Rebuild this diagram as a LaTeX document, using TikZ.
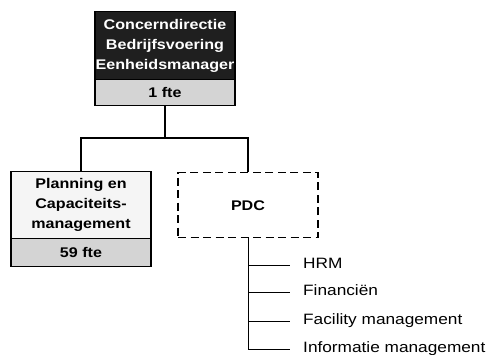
\documentclass[tikz,border=0pt]{standalone}
\usepackage{fontspec}
\setmainfont{Liberation Sans}[FakeStretch=1.15]
\begin{document}
\begin{tikzpicture}[x=1pt,y=-1pt,
  boxtext/.style={font=\fontsize{14}{20}\selectfont\bfseries, align=center, inner sep=0pt},
  headbox/.style={draw=black, line width=1.4pt, boxtext, minimum width=140pt, anchor=north},
  listitem/.style={font=\fontsize{15}{16}\selectfont, anchor=west, inner sep=0pt, text height=10pt, text depth=3pt},
  conn/.style={line width=1.4pt, black},
  subconn/.style={line width=0.9pt, black}
]
\useasboundingbox (0,0) rectangle (489,355);
% top box
\node[headbox, fill=black!88, text=white, minimum height=68pt] (tophead) at (165,11)
  {Concerndirectie\\Bedrijfsvoering\\Eenheidsmanager};
\node[headbox, fill=black!17, minimum height=26pt] (topfte) at (165,79) {1 fte};
% left box
\node[headbox, fill=black!4, minimum height=67pt] (planhead) at (81,171)
  {Planning en\\Capaciteits-\\management};
\node[headbox, fill=black!17, minimum height=28pt] (planfte) at (81,238) {59 fte};
% dashed box
\node[draw=black, line width=1.4pt, dash pattern=on 8pt off 4.5pt, boxtext,
  minimum width=140pt, minimum height=65pt, anchor=north] (pdc) at (248,172) {PDC};
% tree connectors
\coordinate (bar) at (165,138);
\draw[conn] (topfte.south) -- (bar);
\draw[conn] (planhead.north) -- (planhead.north |- bar) -- (pdc.north |- bar) -- (pdc.north);
% list
\node[listitem] (hrm) at (303,265) {HRM};
\node[listitem] (fin) at (303,292) {Financiën};
\node[listitem] (fac) at (303,321) {Facility management};
\node[listitem] (info) at (303,349) {Informatie management};
\draw[subconn] (pdc.south) |- ([xshift=-13pt]info.west);
\draw[subconn] (pdc.south |- hrm.west) -- ([xshift=-13pt]hrm.west);
\draw[subconn] (pdc.south |- fin.west) -- ([xshift=-13pt]fin.west);
\draw[subconn] (pdc.south |- fac.west) -- ([xshift=-13pt]fac.west);
\end{tikzpicture}
\end{document}
